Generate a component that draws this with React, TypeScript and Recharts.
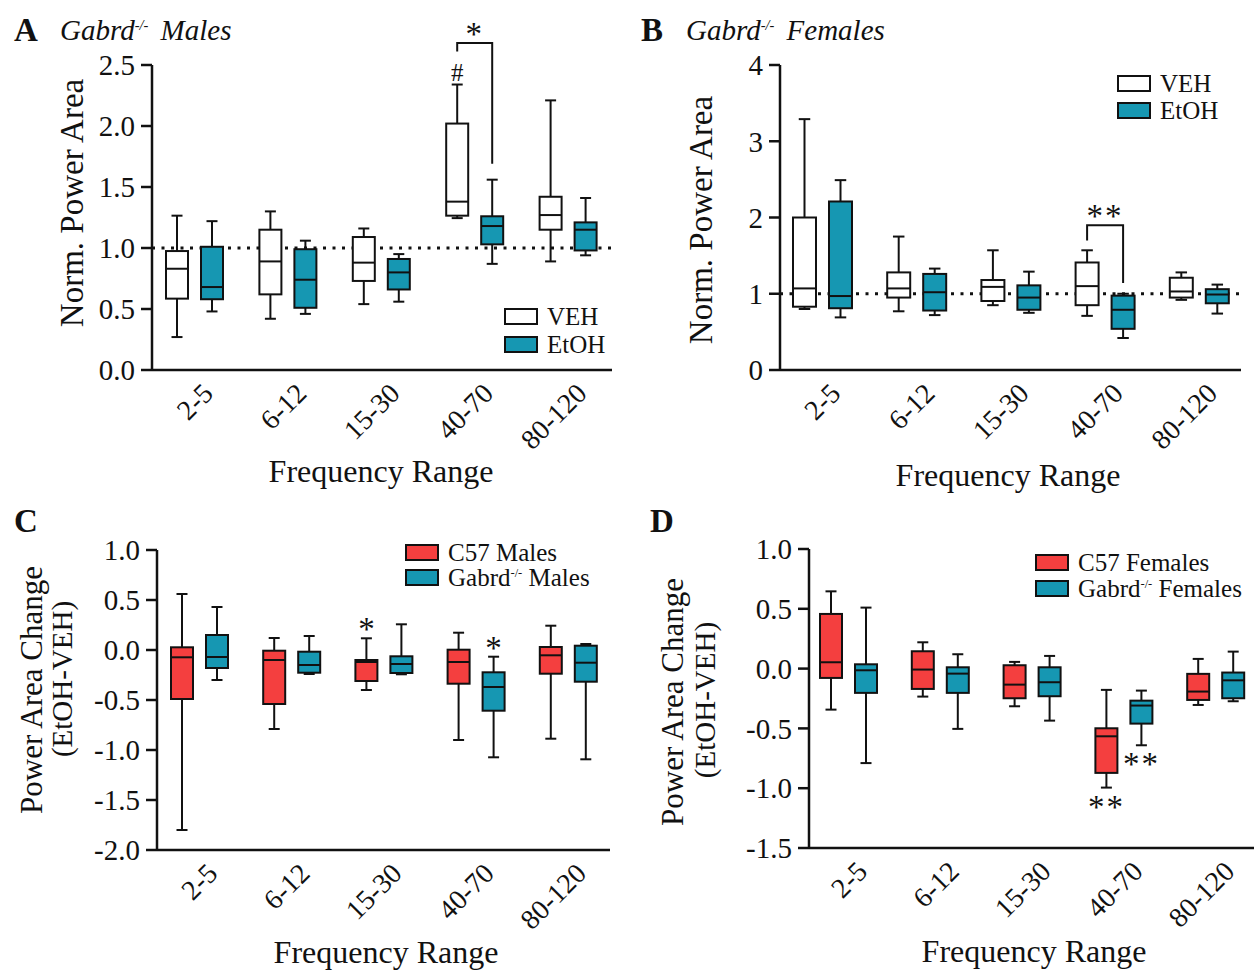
import React from 'react';
import { ComposedChart, Bar, XAxis, YAxis, ReferenceLine } from 'recharts';

const categories = ['2-5', '6-12', '15-30', '40-70', '80-120'];

// each entry: [min, q1, median, q3, max]
const maleVeh = [
  [0.27, 0.585, 0.83, 0.975, 1.265],
  [0.42, 0.62, 0.89, 1.15, 1.3],
  [0.54, 0.73, 0.88, 1.09, 1.16],
  [1.245, 1.265, 1.38, 2.02, 2.34],
  [0.89, 1.15, 1.27, 1.42, 2.21],
];
const maleEtoh = [
  [0.48, 0.58, 0.68, 1.01, 1.22],
  [0.46, 0.51, 0.74, 0.99, 1.06],
  [0.56, 0.66, 0.8, 0.91, 0.95],
  [0.87, 1.03, 1.18, 1.26, 1.56],
  [0.94, 0.98, 1.15, 1.21, 1.41],
];
const femaleVeh = [
  [0.8, 0.83, 1.07, 2.0, 3.29],
  [0.77, 0.95, 1.07, 1.28, 1.75],
  [0.85, 0.905, 1.09, 1.18, 1.57],
  [0.71, 0.85, 1.1, 1.41, 1.57],
  [0.92, 0.95, 1.03, 1.21, 1.28],
];
const femaleEtoh = [
  [0.69, 0.81, 0.97, 2.21, 2.49],
  [0.72, 0.78, 1.02, 1.26, 1.33],
  [0.75, 0.79, 0.95, 1.11, 1.29],
  [0.42, 0.54, 0.79, 0.975, 1.0],
  [0.74, 0.875, 0.99, 1.06, 1.12],
];
const c57Males = [
  [-1.8, -0.49, -0.073, 0.027, 0.56],
  [-0.79, -0.54, -0.1, -0.007, 0.12],
  [-0.4, -0.31, -0.12, -0.1, 0.117],
  [-0.9, -0.337, -0.12, 0.003, 0.173],
  [-0.887, -0.237, -0.053, 0.03, 0.243],
];
const gabrdMales = [
  [-0.3, -0.18, -0.07, 0.15, 0.43],
  [-0.24, -0.227, -0.15, -0.017, 0.14],
  [-0.243, -0.23, -0.14, -0.063, 0.257],
  [-1.073, -0.607, -0.37, -0.223, -0.067],
  [-1.093, -0.317, -0.127, 0.043, 0.06],
];
const c57Females = [
  [-0.343, -0.078, 0.053, 0.457, 0.646],
  [-0.234, -0.17, -0.008, 0.145, 0.22],
  [-0.315, -0.248, -0.134, 0.028, 0.056],
  [-0.995, -0.872, -0.566, -0.499, -0.178],
  [-0.304, -0.262, -0.192, -0.044, 0.081],
];
const gabrdFemales = [
  [-0.79, -0.203, -0.014, 0.036, 0.51],
  [-0.504, -0.203, -0.042, 0.011, 0.12],
  [-0.435, -0.231, -0.114, 0.011, 0.106],
  [-0.641, -0.46, -0.309, -0.268, -0.184],
  [-0.273, -0.248, -0.098, -0.033, 0.142],
];

// significance marks
const noMarks = ['', '', '', '', ''];
const maleVehMarks = ['', '', '', '#', ''];
const c57MalesMarks = ['', '', '*', '', ''];
const gabrdMalesMarks = ['', '', '', '*', ''];
const c57FemalesMarks = ['', '', '', '**', ''];
const gabrdFemalesMarks = ['', '', '', '**', ''];

type Bracket = { top: number; left: number; right: number; label: string } | null;
const maleBrackets: Bracket[] = [null, null, null, { top: 2.68, left: 2.61, right: 1.69, label: '*' }, null];
const femaleBrackets: Bracket[] = [null, null, null, { top: 1.9, left: 1.7, right: 1.14, label: '**' }, null];

const ticksA = [0, 0.5, 1, 1.5, 2, 2.5];
const ticksB = [0, 1, 2, 3, 4];
const ticksC = [-2, -1.5, -1, -0.5, 0, 0.5, 1];
const ticksD = [-1.5, -1, -0.5, 0, 0.5, 1];

const FONT = '"Liberation Serif", "Times New Roman", serif';
const TEAL = '#1697b2';
const RED = '#f43f3f';
const INK = '#111';
const GAP = 13;

const makeRows = (a: number[][], b: number[][], aMarks: string[], bMarks: string[], brackets?: Bracket[]) =>
  categories.map((cat, i) => ({
    cat,
    a: a[i],
    b: b[i],
    aMark: aMarks[i],
    bMark: bMarks[i],
    bracket: brackets ? brackets[i] : null,
  }));

const BoxShape = (props: any) => {
  const { x, y, width, height, payload, series, color, below } = props;
  const s: number[] = payload[series];
  const top = Math.min(y, y + height);
  const bottom = Math.max(y, y + height);
  const px = (v: number) => bottom - ((v - s[0]) / (s[4] - s[0])) * (bottom - top);
  const cx = x + width / 2;
  const cap = width * 0.25;
  const mark: string = payload[series + 'Mark'];
  const br: Bracket = series === 'a' ? payload.bracket : null;
  return (
    <g>
      <line x1={cx} x2={cx} y1={px(s[4])} y2={px(s[3])} stroke={INK} strokeWidth={2} />
      <line x1={cx} x2={cx} y1={px(s[1])} y2={px(s[0])} stroke={INK} strokeWidth={2} />
      <line x1={cx - cap} x2={cx + cap} y1={px(s[4])} y2={px(s[4])} stroke={INK} strokeWidth={2} />
      <line x1={cx - cap} x2={cx + cap} y1={px(s[0])} y2={px(s[0])} stroke={INK} strokeWidth={2} />
      <rect x={x} y={px(s[3])} width={width} height={px(s[1]) - px(s[3])} fill={color} stroke={INK} strokeWidth={2} />
      <line x1={x} x2={x + width} y1={px(s[2])} y2={px(s[2])} stroke={INK} strokeWidth={2} />
      {mark === '#' && (
        <text x={cx} y={px(s[4]) - 4} textAnchor="middle" fontSize={25} fontFamily={FONT} fill={INK}>#</text>
      )}
      {mark && mark !== '#' && !below && (
        <text x={cx} y={px(s[4]) + 2} textAnchor="middle" fontSize={33} fontFamily={FONT} fill={INK}>{mark}</text>
      )}
      {mark && mark !== '#' && below && (
        <text x={cx} y={px(s[0]) + 30} textAnchor="middle" fontSize={33} letterSpacing={2} fontFamily={FONT} fill={INK}>{mark}</text>
      )}
      {br && (
        <g>
          <polyline
            points={`${cx},${px(br.left)} ${cx},${px(br.top)} ${cx + width + GAP},${px(br.top)} ${cx + width + GAP},${px(br.right)}`}
            fill="none"
            stroke={INK}
            strokeWidth={2}
          />
          <text x={cx + (width + GAP) / 2} y={px(br.top) + 2} textAnchor="middle" fontSize={33} letterSpacing={2} fontFamily={FONT} fill={INK}>
            {br.label}
          </text>
        </g>
      )}
    </g>
  );
};

const AngledTick = ({ x, y, payload }: any) => {
  const tx = x + 20;
  const ty = y + 25;
  return (
    <text x={tx} y={ty} transform={`rotate(-45 ${tx} ${ty})`} textAnchor="end" fontSize={28} fontFamily={FONT} fill={INK}>
      {payload.value}
    </text>
  );
};

type PanelProps = {
  left: number;
  top: number;
  width: number;
  height: number;
  rows: any[];
  domain: [number, number];
  ticks: number[];
  digits: number;
  yWidth: number;
  xHeight: number;
  marginTop: number;
  marginRight: number;
  pad: { left: number; right: number };
  colorA: string;
  colorB: string;
  barSize: number;
  refOne?: boolean;
  below?: boolean;
};

const Panel = (p: PanelProps) => (
  <div style={{ position: 'absolute', left: p.left, top: p.top }}>
    <ComposedChart
      width={p.width}
      height={p.height}
      data={p.rows}
      margin={{ top: p.marginTop, right: p.marginRight, bottom: 0, left: 0 }}
      barGap={GAP}
    >
      <XAxis
        dataKey="cat"
        type="category"
        interval={0}
        height={p.xHeight}
        padding={p.pad}
        tickLine={false}
        tickSize={0}
        tickMargin={0}
        axisLine={{ stroke: INK, strokeWidth: 2.5 }}
        tick={<AngledTick />}
      />
      <YAxis
        type="number"
        domain={p.domain}
        ticks={p.ticks}
        width={p.yWidth}
        tickSize={11}
        tickMargin={6}
        tickFormatter={(v: number) => v.toFixed(p.digits)}
        tick={{ fill: INK, fontSize: 29, fontFamily: FONT }}
        tickLine={{ stroke: INK, strokeWidth: 2.5 }}
        axisLine={{ stroke: INK, strokeWidth: 2.5 }}
      />
      {p.refOne && (
        <ReferenceLine y={1} stroke={INK} strokeWidth={3} strokeDasharray="3 6.5" {...({ zIndex: 100 } as any)} />
      )}
      <Bar
        dataKey={(d: any) => [d.a[0], d.a[4]]}
        barSize={p.barSize}
        fill={p.colorA}
        isAnimationActive={false}
        shape={(props: any) => <BoxShape {...props} series="a" color={p.colorA} below={p.below} />}
      />
      <Bar
        dataKey={(d: any) => [d.b[0], d.b[4]]}
        barSize={p.barSize}
        fill={p.colorB}
        isAnimationActive={false}
        shape={(props: any) => <BoxShape {...props} series="b" color={p.colorB} below={p.below} />}
      />
    </ComposedChart>
  </div>
);

const LegendRow = ({ x, y, color, children }: { x: number; y: number; color: string; children: React.ReactNode }) => (
  <g>
    <rect x={x} y={y} width={32} height={15} fill={color} stroke={INK} strokeWidth={2} />
    <text x={x + 42} y={y + 16} fontSize={25} fontFamily={FONT} fill={INK}>{children}</text>
  </g>
);

const Sup = ({ base }: { base: number }) => (
  <tspan fontSize={base * 0.5} dy={-base * 0.36}>-/-</tspan>
);

export default function App() {
  return (
    <div style={{ position: 'absolute', left: 0, top: 0, width: 1254, height: 971, background: '#fff', overflow: 'hidden' }}>
      <Panel
        left={0} top={0} width={627} height={500}
        rows={makeRows(maleVeh, maleEtoh, maleVehMarks, noMarks, maleBrackets)}
        domain={[0, 2.5]} ticks={ticksA} digits={1}
        yWidth={152} xHeight={130} marginTop={65} marginRight={15}
        pad={{ left: -4, right: -3 }}
        colorA="#fff" colorB={TEAL} barSize={22} refOne
      />
      <Panel
        left={627} top={0} width={627} height={500}
        rows={makeRows(femaleVeh, femaleEtoh, noMarks, noMarks, femaleBrackets)}
        domain={[0, 4]} ticks={ticksB} digits={0}
        yWidth={153} xHeight={130} marginTop={65} marginRight={13}
        pad={{ left: -5, right: -5 }}
        colorA="#fff" colorB={TEAL} barSize={23} refOne
      />
      <Panel
        left={0} top={500} width={627} height={471}
        rows={makeRows(c57Males, gabrdMales, c57MalesMarks, gabrdMalesMarks)}
        domain={[-2, 1]} ticks={ticksC} digits={1}
        yWidth={157} xHeight={121} marginTop={50} marginRight={17}
        pad={{ left: -4, right: -4 }}
        colorA={RED} colorB={TEAL} barSize={22}
      />
      <Panel
        left={627} top={500} width={627} height={471}
        rows={makeRows(c57Females, gabrdFemales, c57FemalesMarks, gabrdFemalesMarks)}
        domain={[-1.5, 1]} ticks={ticksD} digits={1}
        yWidth={182} xHeight={123} marginTop={49} marginRight={0}
        pad={{ left: -6, right: -8 }}
        colorA={RED} colorB={TEAL} barSize={22} below
      />
      <svg width={1254} height={971} style={{ position: 'absolute', left: 0, top: 0, pointerEvents: 'none' }} fontFamily={FONT} fill={INK}>
        {/* panel letters and titles */}
        <text x={14} y={41} fontSize={33} fontWeight="bold">A</text>
        <text x={60} y={40} fontSize={29} fontStyle="italic">
          Gabrd<Sup base={29} /><tspan dy={29 * 0.36} dx={5}> Males</tspan>
        </text>
        <text x={641} y={41} fontSize={33} fontWeight="bold">B</text>
        <text x={686} y={40} fontSize={29} fontStyle="italic">
          Gabrd<Sup base={29} /><tspan dy={29 * 0.36} dx={5}> Females</tspan>
        </text>
        <text x={14} y={532} fontSize={33} fontWeight="bold">C</text>
        <text x={650} y={532} fontSize={33} fontWeight="bold">D</text>

        {/* y axis titles */}
        <text x={83} y={203} fontSize={33} textAnchor="middle" transform="rotate(-90 83 203)">Norm. Power Area</text>
        <text x={712} y={220} fontSize={33} textAnchor="middle" transform="rotate(-90 712 220)">Norm. Power Area</text>
        <text x={42} y={690} fontSize={31} textAnchor="middle" transform="rotate(-90 42 690)">Power Area Change</text>
        <text x={72} y={679} fontSize={29} textAnchor="middle" transform="rotate(-90 72 679)">(EtOH-VEH)</text>
        <text x={683} y={702} fontSize={31} textAnchor="middle" transform="rotate(-90 683 702)">Power Area Change</text>
        <text x={715} y={700} fontSize={29} textAnchor="middle" transform="rotate(-90 715 700)">(EtOH-VEH)</text>

        {/* x axis titles */}
        <text x={381} y={482} fontSize={32} textAnchor="middle">Frequency Range</text>
        <text x={1008} y={486} fontSize={32} textAnchor="middle">Frequency Range</text>
        <text x={386} y={963} fontSize={32} textAnchor="middle">Frequency Range</text>
        <text x={1034} y={962} fontSize={32} textAnchor="middle">Frequency Range</text>

        {/* legends */}
        <LegendRow x={505} y={309} color="#fff">VEH</LegendRow>
        <LegendRow x={505} y={337} color={TEAL}>EtOH</LegendRow>
        <LegendRow x={1118} y={76} color="#fff">VEH</LegendRow>
        <LegendRow x={1118} y={103} color={TEAL}>EtOH</LegendRow>
        <LegendRow x={406} y={545} color={RED}>C57 Males</LegendRow>
        <LegendRow x={406} y={570} color={TEAL}>
          Gabrd<Sup base={25} /><tspan dy={25 * 0.36}> Males</tspan>
        </LegendRow>
        <LegendRow x={1036} y={555} color={RED}>C57 Females</LegendRow>
        <LegendRow x={1036} y={581} color={TEAL}>
          Gabrd<Sup base={25} /><tspan dy={25 * 0.36}> Females</tspan>
        </LegendRow>
      </svg>
    </div>
  );
}
